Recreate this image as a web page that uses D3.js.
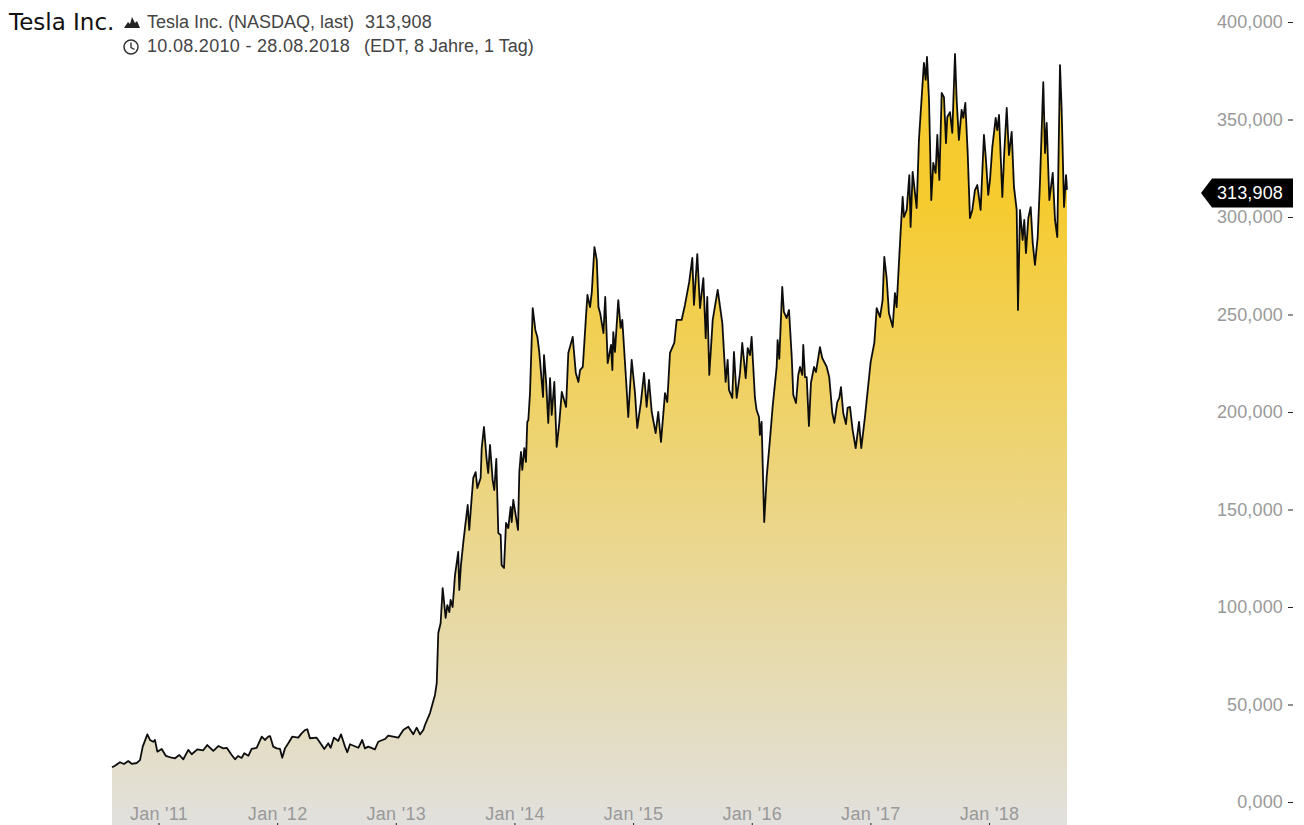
<!DOCTYPE html>
<html lang="de">
<head>
  <meta charset="UTF-8">
  <title>Tesla Inc.</title>
  <script src="https://d3js.org/d3.v7.min.js"></script>
  <style>
    html, body { margin: 0; padding: 0; background: #fff; overflow: hidden; }
    svg { display: block; font-family: "Liberation Sans", sans-serif; }
    .axis path { display: none; }
    .axis line { stroke: #222; }
    .axis text { font-size: 18px; fill: #999; letter-spacing: 0.15px; }
    .x-axis text { letter-spacing: 0.3px; }
    .title { font-family: "DejaVu Sans", sans-serif; font-size: 23px; fill: #111; }
    .info { font-size: 18px; fill: #444; }
    .info.nums { letter-spacing: 0.3px; }
  </style>
</head>
<body>
  <div id="chart"></div>
  <script>
    const width = 1304;
    const height = 825;

    // time of each traced point, as decimal year
    const years = [
      2010.608,2010.633,2010.675,2010.709,2010.745,2010.774,2010.816,2010.844,2010.867,2010.906,2010.928,2010.956,2010.970,2010.990,
      2011.027,2011.061,2011.111,2011.139,2011.175,2011.209,2011.251,2011.280,2011.327,2011.377,2011.411,2011.462,2011.504,2011.546,2011.575,2011.617,2011.645,2011.670,2011.701,2011.723,2011.757,2011.785,2011.827,2011.870,2011.897,2011.925,2011.940,2011.967,2011.996,
      2012.024,2012.043,2012.066,2012.094,2012.127,2012.178,2012.206,2012.234,2012.254,2012.276,2012.333,2012.375,2012.397,2012.431,2012.451,2012.479,2012.515,2012.538,2012.572,2012.591,2012.614,2012.684,2012.717,2012.740,2012.768,2012.824,2012.852,2012.909,2012.936,
      2013.021,2013.063,2013.105,2013.147,2013.176,2013.204,2013.232,2013.246,2013.288,2013.330,2013.345,2013.358,2013.378,2013.395,2013.420,2013.434,2013.451,2013.462,2013.479,2013.499,2013.526,2013.535,2013.549,2013.569,2013.589,2013.606,2013.619,2013.640,2013.653,2013.673,2013.687,2013.715,2013.724,2013.743,2013.766,2013.779,2013.794,2013.816,2013.830,2013.847,2013.864,2013.884,2013.892,2013.912,2013.929,2013.948,2013.968,2013.977,2013.990,
      2014.010,2014.030,2014.041,2014.055,2014.066,2014.083,2014.097,2014.108,2014.117,2014.131,2014.154,2014.176,2014.193,2014.209,2014.241,2014.249,2014.266,2014.285,2014.300,2014.314,2014.336,2014.356,2014.378,2014.399,2014.435,2014.454,2014.491,2014.517,2014.539,2014.553,2014.576,2014.601,2014.615,2014.637,2014.652,2014.674,2014.694,2014.708,2014.722,2014.750,2014.765,2014.786,2014.814,2014.825,2014.833,2014.847,2014.875,2014.895,2014.909,2014.946,2014.959,2014.988,
      2015.016,2015.035,2015.066,2015.092,2015.114,2015.134,2015.157,2015.190,2015.212,2015.235,2015.269,2015.288,2015.311,2015.347,2015.367,2015.409,2015.437,2015.473,2015.499,2015.513,2015.541,2015.564,2015.592,2015.612,2015.625,2015.642,2015.671,2015.713,2015.752,2015.780,2015.797,2015.808,2015.836,2015.850,2015.873,2015.901,2015.920,2015.949,2015.966,2015.985,2015.999,
      2016.027,2016.041,2016.061,2016.069,2016.083,2016.105,2016.126,2016.153,2016.176,2016.210,2016.218,2016.232,2016.257,2016.271,2016.294,2016.314,2016.337,2016.350,2016.373,2016.392,2016.407,2016.426,2016.434,2016.449,2016.463,2016.482,2016.499,2016.525,2016.541,2016.575,2016.594,2016.632,2016.653,2016.679,2016.696,2016.721,2016.738,2016.752,2016.771,2016.794,2016.808,2016.828,2016.850,2016.876,2016.904,2016.923,2016.954,2016.982,
      2017.002,2017.033,2017.053,2017.081,2017.103,2017.117,2017.137,2017.156,2017.188,2017.207,2017.221,2017.241,2017.257,2017.272,2017.283,2017.306,2017.328,2017.339,2017.356,2017.390,2017.409,2017.440,2017.451,2017.466,2017.477,2017.494,2017.513,2017.530,2017.550,2017.564,2017.581,2017.601,2017.620,2017.637,2017.648,2017.671,2017.690,2017.713,2017.727,2017.746,2017.769,2017.783,2017.800,2017.820,2017.839,2017.859,2017.881,2017.901,2017.929,2017.957,2017.974,2017.993,
      2018.008,2018.027,2018.056,2018.069,2018.084,2018.112,2018.128,2018.149,2018.168,2018.191,2018.210,2018.233,2018.244,2018.261,2018.283,2018.297,2018.311,2018.331,2018.351,2018.368,2018.387,2018.410,2018.429,2018.457,2018.472,2018.486,2018.508,2018.537,2018.556,2018.575,2018.598,2018.612,2018.632,2018.649,2018.657
    ];

    // last price at those times, in thousands as the axis writes them
    const closes = [
      17.8,18.6,20.4,19.5,21.0,19.6,20.0,21.5,28.4,34.7,31.8,30.9,31.8,25.8,
      27.2,23.7,22.7,22.4,24.1,21.9,26.7,24.5,27.0,26.5,29.2,26.2,28.7,27.5,27.8,24.1,21.9,23.6,22.6,25.0,23.7,27.2,27.8,33.5,31.8,33.5,33.8,28.4,27.5,
      27.2,22.7,27.5,30.1,33.5,33.0,35.2,36.9,37.3,32.7,33.0,29.2,27.2,30.1,27.8,33.0,31.3,34.7,28.4,25.5,29.6,27.8,31.8,27.5,28.4,27.0,30.9,32.3,34.0,
      33.0,36.9,38.6,34.7,38.1,34.7,36.9,39.5,45.6,54.9,61.0,86.7,91.8,109.7,94.4,101.0,97.4,103.6,100.0,116.4,128.2,108.7,121.5,133.3,143.6,152.3,139.5,156.4,166.2,169.2,161.0,166.2,181.5,192.3,175.4,168.7,183.1,165.1,160.0,175.9,137.9,136.9,121.5,120.0,143.1,140.5,151.3,143.6,154.9,
      147.2,139.5,169.2,179.5,170.3,181.5,174.4,194.9,195.9,209.7,253.3,242.1,238.5,230.8,207.7,229.2,216.4,194.4,217.4,198.5,215.4,182.1,194.4,210.3,202.6,230.3,238.5,220.0,215.4,221.5,223.1,247.2,260.0,253.8,261.5,284.6,277.9,253.8,250.8,240.5,259.0,225.1,234.4,221.5,241.0,230.8,257.4,243.1,247.2,211.3,197.4,226.7,
      209.7,191.8,205.1,220.0,202.6,216.4,200.0,189.2,200.0,184.6,209.7,205.1,230.3,235.4,247.2,247.2,254.9,266.7,279.0,254.9,281.0,253.3,268.7,237.9,259.0,219.0,247.2,262.6,245.6,215.4,226.7,211.3,207.2,230.8,207.2,220.0,235.4,217.4,232.8,229.2,238.5,
      207.2,201.0,197.4,188.2,194.9,143.6,166.7,185.6,202.6,223.1,236.9,227.2,264.1,251.3,248.2,252.3,228.2,208.7,204.6,219.0,223.1,219.0,234.4,217.9,217.9,192.8,214.9,223.1,220.5,233.3,227.7,223.1,217.9,199.5,194.4,205.1,207.2,212.8,199.5,193.8,202.1,202.6,190.8,181.5,194.9,181.5,197.4,213.8,
      225.6,235.4,253.3,248.7,257.4,279.5,268.7,250.8,243.6,261.0,253.8,276.9,294.9,310.3,300.0,303.6,321.5,294.9,323.1,304.6,339.5,368.7,379.0,370.3,382.1,360.0,308.7,327.7,322.6,342.1,319.0,363.6,361.5,337.9,351.3,353.8,343.1,383.6,360.0,339.5,354.9,350.8,358.5,332.8,299.5,303.6,313.8,316.4,303.6,342.1,329.2,311.3,
      319.0,335.4,350.8,344.6,352.3,310.3,332.8,355.9,331.8,343.6,315.4,303.6,252.3,303.6,288.2,298.5,281.5,299.5,305.1,286.7,275.4,289.7,317.4,369.2,332.8,348.2,308.7,322.6,298.5,289.7,377.9,354.9,305.1,321.5,313.908
    ];

    const yearTicks = [2011, 2012, 2013, 2014, 2015, 2016, 2017, 2018];
    const yearLabels = ["Jan '11", "Jan '12", "Jan '13", "Jan '14", "Jan '15", "Jan '16", "Jan '17", "Jan '18"];
    const valueTicks = [0, 50, 100, 150, 200, 250, 300, 350, 400];
    const valueLabels = ["0,000", "50,000", "100,000", "150,000", "200,000", "250,000", "300,000", "350,000", "400,000"];
    const lastLabel = "313,908";

    const points = years.map((t, i) => ({ t: t, v: closes[i] }));

    const x = d3.scaleLinear().domain([2010.608, 2018.657]).range([112, 1067]);
    const y = d3.scaleLinear().domain([0, 400]).range([802, 22]);

    const svg = d3.select("#chart").append("svg")
      .attr("width", width)
      .attr("height", height);

    const defs = svg.append("defs");
    const grad = defs.append("linearGradient")
      .attr("id", "fade")
      .attr("gradientUnits", "userSpaceOnUse")
      .attr("x1", 0).attr("x2", 0)
      .attr("y1", 200).attr("y2", height);
    grad.append("stop").attr("offset", "0%").attr("stop-color", "#f6cb2f");
    grad.append("stop").attr("offset", "100%").attr("stop-color", "#e1e0dd");

    // the source is a slightly soft screenshot
    defs.append("filter")
      .attr("id", "soft")
      .append("feGaussianBlur")
      .attr("stdDeviation", 0.35);

    const area = d3.area()
      .x(d => x(d.t))
      .y0(height)
      .y1(d => y(d.v));

    const line = d3.line()
      .x(d => x(d.t))
      .y(d => y(d.v));

    svg.append("path")
      .datum(points)
      .attr("d", area)
      .attr("fill", "url(#fade)");

    svg.append("path")
      .datum(points)
      .attr("d", line)
      .attr("fill", "none")
      .attr("stroke", "#0d0d0d")
      .attr("stroke-width", 1.8)
      .attr("stroke-linejoin", "round")
      .attr("filter", "url(#soft)");

    // x axis sits on the bottom edge, labels above the ticks
    svg.append("g")
      .attr("class", "axis x-axis")
      .attr("transform", `translate(0,${height})`)
      .call(d3.axisTop(x)
        .tickValues(yearTicks)
        .tickFormat((d, i) => yearLabels[i])
        .tickSize(2)
        .tickPadding(3));

    svg.append("g")
      .attr("class", "axis")
      .attr("transform", "translate(1293,0)")
      .call(d3.axisLeft(y)
        .tickValues(valueTicks)
        .tickFormat((d, i) => valueLabels[i])
        .tickSize(5)
        .tickPadding(5));

    // flag with the last price, it hangs 3px under the value
    const lastY = y(closes[closes.length - 1]) + 3;
    svg.append("path")
      .attr("d", `M1201,${lastY} L1212,${lastY - 14.5} H1293 V${lastY + 14.5} H1212 Z`)
      .attr("fill", "#000");
    svg.append("text")
      .attr("x", 1283)
      .attr("y", lastY)
      .attr("dy", "0.35em")
      .attr("text-anchor", "end")
      .attr("font-size", 18)
      .attr("letter-spacing", 0.15)
      .attr("fill", "#fff")
      .text(lastLabel);

    // header
    svg.append("text").attr("class", "title").attr("x", 9).attr("y", 30).text("Tesla Inc.");
    svg.append("text").attr("class", "info").attr("x", 147).attr("y", 28).text("Tesla Inc. (NASDAQ, last)");
    svg.append("text").attr("class", "info nums").attr("x", 365).attr("y", 28).text("313,908");
    svg.append("text").attr("class", "info nums").attr("x", 147).attr("y", 52).text("10.08.2010 - 28.08.2018");
    svg.append("text").attr("class", "info").attr("x", 364).attr("y", 52).text("(EDT, 8 Jahre, 1 Tag)");

    // little mountain icon
    svg.append("path")
      .attr("d", "M124,28 L128,22 L130,24 L132,17 L135,23 L137,21 L140,28 Z")
      .attr("fill", "#222");
    // clock icon
    svg.append("circle")
      .attr("cx", 131).attr("cy", 47).attr("r", 7)
      .attr("fill", "none").attr("stroke", "#333").attr("stroke-width", 1.5);
    svg.append("path")
      .attr("d", "M131,42.5 V47.5 L134.5,49.5")
      .attr("fill", "none").attr("stroke", "#333").attr("stroke-width", 1.4);
  </script>
</body>
</html>
